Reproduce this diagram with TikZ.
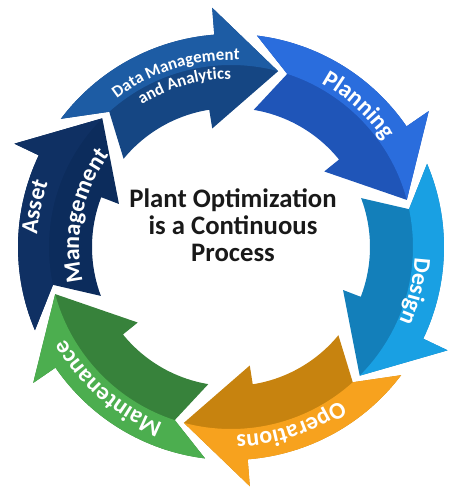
\documentclass[tikz,border=0pt]{standalone}
\usepackage{fontspec}
\setmainfont{Carlito}
\usetikzlibrary{decorations.text}

\definecolor{dataLight}{HTML}{1D5CA4}
\definecolor{dataDark}{HTML}{154683}
\definecolor{planLight}{HTML}{2A6DDD}
\definecolor{planDark}{HTML}{1F55B8}
\definecolor{designLight}{HTML}{19A0E3}
\definecolor{designDark}{HTML}{137FBA}
\definecolor{opsLight}{HTML}{F7A21E}
\definecolor{opsDark}{HTML}{C7830F}
\definecolor{maintLight}{HTML}{4CAE4F}
\definecolor{maintDark}{HTML}{37823B}
\definecolor{assetLight}{HTML}{0F3063}
\definecolor{assetDark}{HTML}{0C2C5C}

\newcommand{\lblfont}{\bfseries\fontsize{17}{20}\selectfont}
\newcommand{\lblsmall}{\bfseries\fontsize{12}{14}\selectfont}

\begin{document}
\begin{tikzpicture}[
  x=0.025cm, y=0.025cm,
  title/.style={
     font=\bfseries\fontsize{19}{19}\selectfont,
     text=black!90,
     align=center
  },
  label arc/.style={
     decorate,
     decoration={text along path, text align=center,
                 text color=white, text={#1}}
  }
]
\useasboundingbox (-231,-249) rectangle (243,247);

% ring of six arrows: tip angle / outer colour / inner colour
\foreach \t/\lc/\dc in {75/dataLight/dataDark, 15/planLight/planDark,
    -45/designLight/designDark, -105/opsLight/opsDark,
    -165/maintLight/maintDark, 135/assetLight/assetDark}{
  \pgfmathsetmacro{\wo}{\t+19.5}
  \pgfmathsetmacro{\wi}{\t+24}
  \pgfmathsetmacro{\co}{\t+68}
  \pgfmathsetmacro{\ci}{\t+65.6}
  \pgfmathsetmacro{\nt}{\t+57}
  \def\seg{(\co:213) arc[start angle=\co, end angle=\wo, radius=213]
     -- (\wo:240) -- (\t:182) -- (\wi:120) -- (\wi:139)
     arc[start angle=\wi, end angle=\ci, radius=139] -- (\nt:182) -- cycle}
  \fill[\dc] \seg;
  \begin{scope}
    \clip \seg;
    \fill[\lc, even odd rule] (0,0) circle[radius=250] circle[radius=182];
  \end{scope}
}

\node[title] (title) at (2,22) {Plant Optimization\\is a Continuous\\Process};

\path[label arc={|\lblsmall|Data Management}] (147.5:187) arc[start angle=147.5, end angle=67.5, radius=187];
\path[label arc={|\lblsmall|and Analytics}] (146:168) arc[start angle=146, end angle=66, radius=168];
\path[label arc={|\lblfont|Planning}] (88:187) arc[start angle=88, end angle=8, radius=187];
\path[label arc={|\lblfont|Design}] (26.5:184) arc[start angle=26.5, end angle=-53.5, radius=184];
\path[label arc={|\lblfont|Operations}] (-31.5:188) arc[start angle=-31.5, end angle=-111.5, radius=188];
\path[label arc={|\lblfont|Maintenance}] (-91:189) arc[start angle=-91, end angle=-171, radius=189];
\path[label arc={|\lblfont|Asset}] (208.5:194) arc[start angle=208.5, end angle=128.5, radius=194];
\path[label arc={|\lblfont|Management}] (228:152) arc[start angle=228, end angle=108, radius=152];

\end{tikzpicture}
\end{document}
